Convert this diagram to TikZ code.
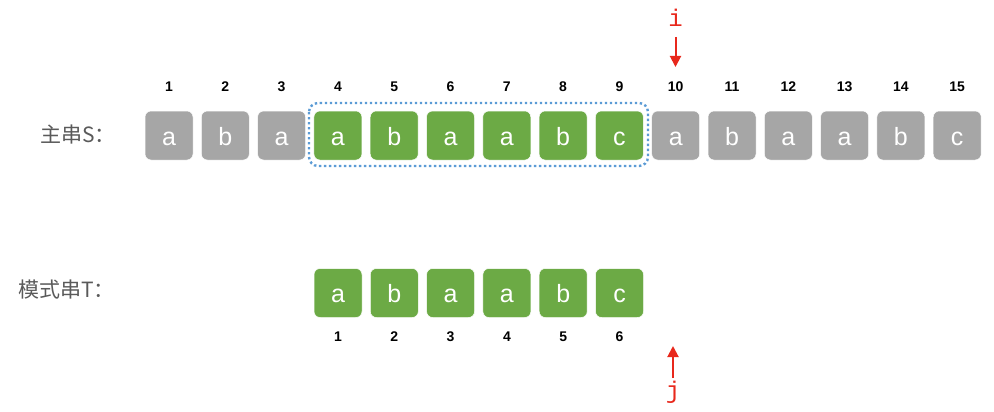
\documentclass[tikz,border=0pt]{standalone}
\usepackage{fontspec}
\usetikzlibrary{arrows.meta}
\setmainfont{Liberation Sans}
\newfontfamily\cjk{Noto Sans CJK SC}
\newfontfamily\monof{Liberation Mono}
\definecolor{boxgray}{HTML}{A6A6A6}
\definecolor{boxgreen}{HTML}{6CAA45}
\definecolor{dotblue}{HTML}{5B9BD5}
\definecolor{lblgray}{HTML}{5A5A5A}
\definecolor{ptrred}{HTML}{E8281C}
\begin{document}
\begin{tikzpicture}[x=1pt,y=-1pt,
  cell/.style={rounded corners=6pt,minimum width=48pt,minimum height=49pt,inner sep=0pt,text height=19pt,text depth=0pt,text=white,font=\fontsize{25}{25}\selectfont,draw=white,line width=0.5pt},
  gcell/.style={cell,fill=boxgray},
  ecell/.style={cell,fill=boxgreen},
  idx/.style={font=\bfseries\fontsize{14}{14}\selectfont,inner sep=0pt},
  lbl/.style={text=lblgray,font=\cjk\fontsize{21}{21}\selectfont,inner sep=0pt},
  ptr/.style={text=ptrred,font=\monof\fontsize{24}{24}\selectfont,inner sep=0pt},
  arr/.style={draw=ptrred,line width=2pt,-{Triangle[length=11pt,width=11pt]}}
]
\useasboundingbox (0,0) rectangle (994,412);
\def\sstr{a,b,a,a,b,a,a,b,c,a,b,a,a,b,c}
\foreach \ch [count=\k] in \sstr {
  \pgfmathsetmacro{\xx}{169+(\k-1)*56.3}
  \ifnum\k>3 \ifnum\k<10 \def\sty{ecell}\else\def\sty{gcell}\fi\else\def\sty{gcell}\fi
  \node[\sty] (s\k) at (\xx,135.5) {\ch};
  \node[idx] (si\k) at (\xx,87) {\k};
}
\def\tstr{a,b,a,a,b,c}
\foreach \ch [count=\k] in \tstr {
  \pgfmathsetmacro{\xx}{338+(\k-1)*56.3}
  \node[ecell] (t\k) at (\xx,293) {\ch};
  \node[idx] (ti\k) at (\xx,337) {\k};
}
\node[lbl,anchor=west] (ls) at (40,135) {主串S：};
\node[lbl,anchor=west] (lt) at (18,290) {模式串T：};
\draw[dotblue,line width=2.4pt,dash pattern=on 2.4pt off 2.6pt,rounded corners=9pt] (309,103) rectangle (648,166);
\node[ptr] (i) at (675.5,18) {i};
\coordinate (itip) at (675.5,67);
\draw[arr] (675.5,37) -- (itip);
\node[ptr] (j) at (673,392) {j};
\coordinate (jtip) at (673,346);
\draw[arr] (673,378) -- (jtip);
\end{tikzpicture}
\end{document}
